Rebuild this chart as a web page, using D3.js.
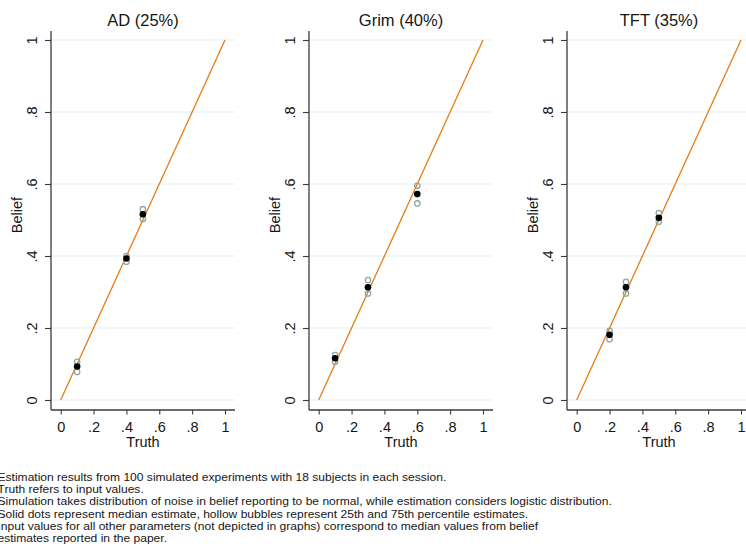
<!DOCTYPE html>
<html>
<head>
<meta charset="utf-8">
<script src="https://cdn.jsdelivr.net/npm/d3@7"></script>
<style>
  html, body { margin: 0; padding: 0; background: #fff; }
  svg { display: block; font-family: "Liberation Sans", Arial, Helvetica, sans-serif; }
</style>
</head>
<body>
<svg id="chart" width="746" height="551"></svg>
<script>
// Panel titles (strategy and its population share)
const panelTitles = ["AD (25%)", "Grim (40%)", "TFT (35%)"];

// True input values per panel
const truthAD   = [0.1, 0.4, 0.5];
const truthGrim = [0.1, 0.3, 0.6];
const truthTFT  = [0.2, 0.3, 0.5];

// Median estimates
const medianAD   = [0.093, 0.393, 0.516];
const medianGrim = [0.116, 0.313, 0.572];
const medianTFT  = [0.181, 0.313, 0.506];

// 25th percentile estimates
const p25AD   = [0.078, 0.384, 0.503];
const p25Grim = [0.106, 0.296, 0.546];
const p25TFT  = [0.169, 0.296, 0.495];

// 75th percentile estimates
const p75AD   = [0.106, 0.400, 0.530];
const p75Grim = [0.125, 0.333, 0.595];
const p75TFT  = [0.192, 0.328, 0.519];

// Axis ticks and labels
const tickValues = [0, 0.2, 0.4, 0.6, 0.8, 1];
const tickLabels = ["0", ".2", ".4", ".6", ".8", "1"];

const noteLines = [
  "Estimation results from 100 simulated experiments with 18 subjects in each session.",
  "Truth refers to input values.",
  "Simulation takes distribution of noise in belief reporting to be normal, while estimation considers logistic distribution.",
  "Solid dots represent median estimate, hollow bubbles represent 25th and 75th percentile estimates.",
  "Input values for all other parameters (not depicted in graphs) correspond to median values from belief",
  "estimates reported in the paper."
];

const panels = [
  { title: panelTitles[0], truth: truthAD,   med: medianAD,   lo: p25AD,   hi: p75AD },
  { title: panelTitles[1], truth: truthGrim, med: medianGrim, lo: p25Grim, hi: p75Grim },
  { title: panelTitles[2], truth: truthTFT,  med: medianTFT,  lo: p25TFT,  hi: p75TFT }
];

const svg = d3.select("#chart");

const colors = {
  axis: "#3a3a3a",
  grid: "#e6eff1",
  line: "#e67d12",
  hollow: "#8aa9a7",
  solid: "#000000",
  text: "#161616"
};

// Geometry of each plot region
const panelStep = 258;
const axisX0 = 51;         // y-axis line of the first panel
const regionW = 184;       // width of plot region
const regionTop = 31, regionBottom = 410;

const y = d3.scaleLinear().domain([0, 1]).range([400, 40]);

panels.forEach((p, i) => {
  const ax = axisX0 + i * panelStep;
  const x = d3.scaleLinear().domain([0, 1]).range([ax + 9.7, ax + 174]);
  const g = svg.append("g");

  // horizontal grid lines
  g.selectAll("line.grid").data(tickValues).join("line")
    .attr("class", "grid")
    .attr("x1", ax).attr("x2", ax + regionW)
    .attr("y1", d => y(d)).attr("y2", d => y(d))
    .attr("stroke", colors.grid).attr("stroke-width", 1.1);

  // y axis
  const yAxis = d3.axisLeft(y).tickValues(tickValues)
    .tickFormat((d, k) => tickLabels[k]).tickSize(6).tickSizeOuter(0);
  const ya = g.append("g").attr("transform", `translate(${ax},0)`).call(yAxis)
    .attr("font-size", null).attr("font-family", null);
  ya.select(".domain").remove();
  ya.selectAll(".tick line").attr("stroke", colors.axis).attr("stroke-width", 1.1);
  ya.selectAll(".tick text")
    .attr("x", 0).attr("dy", null)
    .attr("transform", "translate(-19,0) rotate(-90)")
    .attr("text-anchor", "middle")
    .attr("dominant-baseline", "central")
    .attr("fill", colors.text)
    .style("font-size", "14.5px");

  // x axis
  const xAxis = d3.axisBottom(x).tickValues(tickValues)
    .tickFormat((d, k) => tickLabels[k]).tickSize(4.5).tickSizeOuter(0);
  const xa = g.append("g").attr("transform", `translate(0,${regionBottom})`).call(xAxis)
    .attr("font-size", null).attr("font-family", null);
  xa.select(".domain").remove();
  xa.selectAll(".tick line").attr("stroke", colors.axis).attr("stroke-width", 1.1);
  xa.selectAll(".tick text")
    .attr("y", 16.5).attr("dy", null)
    .attr("dominant-baseline", "central")
    .attr("fill", colors.text)
    .style("font-size", "14.5px");

  // axis lines
  g.append("line").attr("x1", ax).attr("x2", ax)
    .attr("y1", regionTop).attr("y2", regionBottom)
    .attr("stroke", colors.axis).attr("stroke-width", 1.3);
  g.append("line").attr("x1", ax).attr("x2", ax + regionW)
    .attr("y1", regionBottom).attr("y2", regionBottom)
    .attr("stroke", colors.axis).attr("stroke-width", 1.3);

  // 45-degree reference line
  g.append("path")
    .datum([0, 1])
    .attr("d", d3.line().x(d => x(d)).y(d => y(d)))
    .attr("fill", "none").attr("stroke", colors.line).attr("stroke-width", 1.3);

  // hollow bubbles: 25th and 75th percentiles
  const hollow = p.truth.flatMap((t, k) => [[t, p.lo[k]], [t, p.hi[k]]]);
  g.selectAll("circle.hollow").data(hollow).join("circle")
    .attr("class", "hollow")
    .attr("cx", d => x(d[0])).attr("cy", d => y(d[1]))
    .attr("r", 2.7)
    .attr("fill", "none").attr("stroke", colors.hollow).attr("stroke-width", 1.3);

  // solid dots: median estimate
  g.selectAll("circle.med").data(p.truth.map((t, k) => [t, p.med[k]])).join("circle")
    .attr("class", "med")
    .attr("cx", d => x(d[0])).attr("cy", d => y(d[1]))
    .attr("r", 3.3)
    .attr("fill", colors.solid);

  // titles
  g.append("text")
    .attr("x", ax + regionW / 2).attr("y", 20)
    .attr("text-anchor", "middle").attr("dominant-baseline", "central")
    .attr("fill", colors.text)
    .style("font-size", "16.5px")
    .text(p.title);

  g.append("text")
    .attr("x", ax + regionW / 2).attr("y", 442)
    .attr("text-anchor", "middle").attr("dominant-baseline", "central")
    .attr("fill", colors.text)
    .style("font-size", "14.5px")
    .text("Truth");

  g.append("text")
    .attr("transform", `translate(${ax - 34},215) rotate(-90)`)
    .attr("text-anchor", "middle").attr("dominant-baseline", "central")
    .attr("fill", colors.text)
    .style("font-size", "14.5px")
    .text("Belief");
});

// footnote
const note = svg.append("g");
const noteText = note.selectAll("text").data(noteLines).join("text")
  .attr("x", 0)
  .attr("y", (d, k) => 477 + k * 12.3)
  .attr("dominant-baseline", "central")
  .attr("fill", colors.text)
  .style("font-size", "11px")
  .text(d => d);
// condense the note so the longest line spans the width used by the note
const longest = noteText.nodes()[2].getComputedTextLength();
const sx = 615 / longest;
note.attr("transform", `translate(-2.5,0) scale(${sx},1)`);
</script>
</body>
</html>
